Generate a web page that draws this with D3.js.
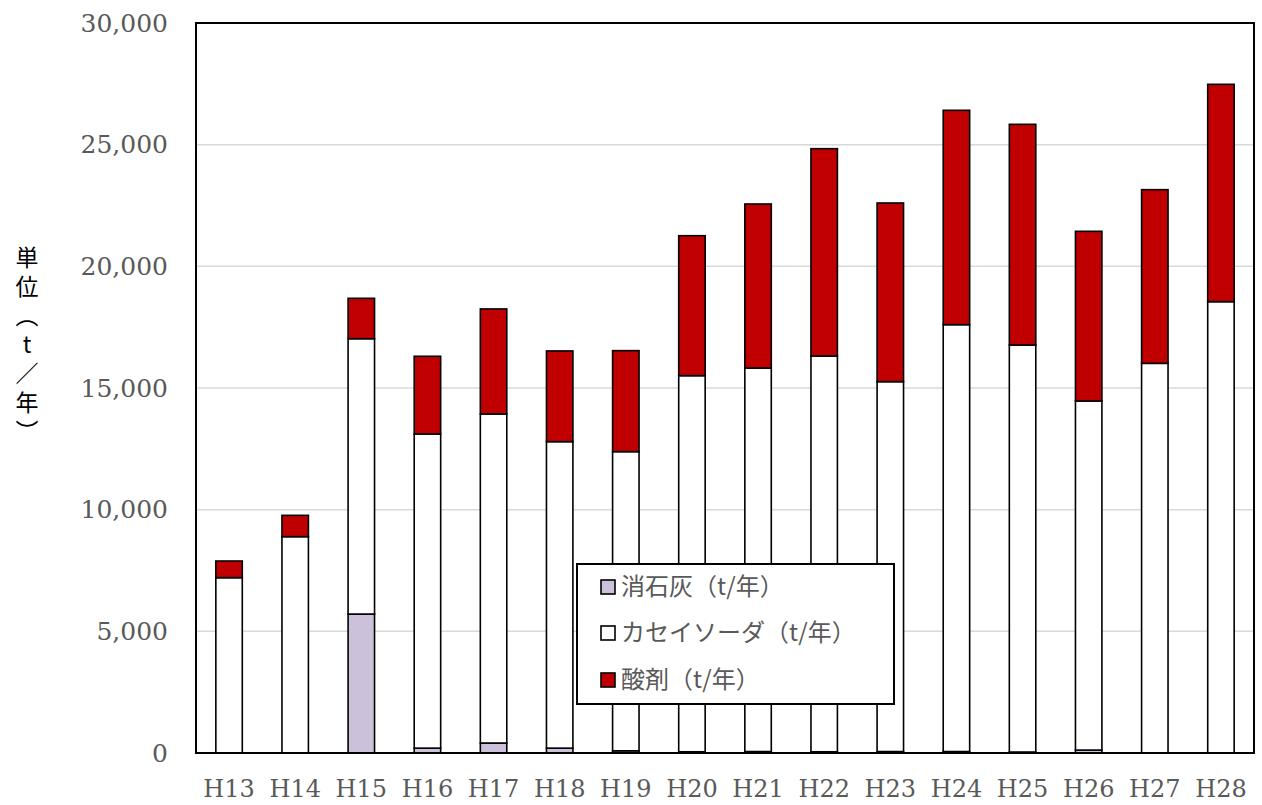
<!DOCTYPE html>
<html>
<head>
<meta charset="utf-8">
<script src="https://cdn.jsdelivr.net/npm/d3@7"></script>
<style>
  html, body { margin: 0; padding: 0; background: #fff; }
  svg { display: block; }
</style>
</head>
<body>
<svg id="chart" width="1262" height="805"></svg>
<script>
const categories = ["H13","H14","H15","H16","H17","H18","H19","H20","H21","H22","H23","H24","H25","H26","H27","H28"];
const limeValues    = [0, 0, 5710, 200, 410, 200, 90, 50, 60, 50, 60, 60, 40, 120, 0, 0];
const causticValues = [7205, 8890, 11316, 12911, 13523, 12595, 12294, 15457, 15762, 16265, 15200, 17543, 16727, 14346, 16014, 18548];
const acidValues    = [685, 877, 1660, 3193, 4316, 3728, 4151, 5752, 6740, 8520, 7343, 8809, 9069, 6973, 7137, 8932];
const seriesNames   = ["消石灰（t/年）", "カセイソーダ（t/年）", "酸剤（t/年）"];
const seriesColors  = ["#ccc1da", "#ffffff", "#c00000"];
const yTicks        = [0, 5000, 10000, 15000, 20000, 25000, 30000];
const yTitle        = "単位（t／年）";

const rows = categories.map((c, i) => ({cat: c, s0: limeValues[i], s1: causticValues[i], s2: acidValues[i]}));
const keys = ["s0", "s1", "s2"];

const svg = d3.select("#chart");
const L = 196, R = 1254, T = 23, B = 753;

const x = d3.scaleBand().domain(categories).range([L, R]).paddingInner(0.6).paddingOuter(0.3);
const y = d3.scaleLinear().domain([0, 30000]).range([B, T]);

// gridlines
svg.append("g").selectAll("line").data(yTicks.filter(t => t > 0 && t < 30000)).join("line")
  .attr("x1", L).attr("x2", R).attr("y1", d => y(d)).attr("y2", d => y(d))
  .attr("stroke", "#d9d9d9").attr("stroke-width", 1.5);

// bars
const stacked = d3.stack().keys(keys)(rows);
const layers = svg.append("g").selectAll("g").data(stacked).join("g")
  .attr("fill", (d, i) => seriesColors[i]);
layers.selectAll("rect").data(d => d.filter(p => p[1] - p[0] > 0)).join("rect")
  .attr("x", d => x(d.data.cat))
  .attr("width", x.bandwidth())
  .attr("y", d => y(d[1]))
  .attr("height", d => y(d[0]) - y(d[1]))
  .attr("stroke", "#000").attr("stroke-width", 1.6);

// plot border
svg.append("rect").attr("x", L).attr("y", T).attr("width", R - L).attr("height", B - T)
  .attr("fill", "none").attr("stroke", "#000").attr("stroke-width", 2);

// y axis
const yAxis = svg.append("g").attr("transform", `translate(${L},0)`)
  .call(d3.axisLeft(y).tickValues(yTicks).tickSize(0).tickPadding(28).tickFormat(d3.format(",")));
yAxis.select(".domain").remove();
yAxis.selectAll("text").attr("font-family", "DejaVu Serif").attr("font-size", 25).attr("fill", "#595959");

// x axis
const xAxis = svg.append("g").attr("transform", `translate(0,${B})`)
  .call(d3.axisBottom(x).tickSize(0).tickPadding(27));
xAxis.select(".domain").remove();
xAxis.selectAll("text").attr("font-family", "DejaVu Serif").attr("font-size", 24).attr("fill", "#595959");

// y title (vertical)
svg.append("text")
  .attr("x", 27).attr("y", 246)
  .attr("font-family", "Noto Sans CJK JP").attr("font-size", 23).attr("fill", "#000")
  .style("writing-mode", "vertical-rl").style("text-orientation", "upright")
  .attr("letter-spacing", 6)
  .text(yTitle);

// legend
const lg = svg.append("g");
lg.append("rect").attr("x", 577).attr("y", 564).attr("width", 317).attr("height", 140)
  .attr("fill", "#fff").attr("stroke", "#000").attr("stroke-width", 2);
const rowY = [587, 633, 680];
seriesNames.forEach((name, i) => {
  lg.append("rect").attr("x", 601).attr("y", rowY[i] - 7).attr("width", 14).attr("height", 14)
    .attr("fill", seriesColors[i]).attr("stroke", "#000").attr("stroke-width", 1.6);
  lg.append("text").attr("x", 621).attr("y", rowY[i]).attr("dy", "0.35em")
    .attr("font-family", "Noto Sans CJK JP").attr("font-size", 24).attr("fill", "#595959")
    .text(name);
});
</script>
</body>
</html>
